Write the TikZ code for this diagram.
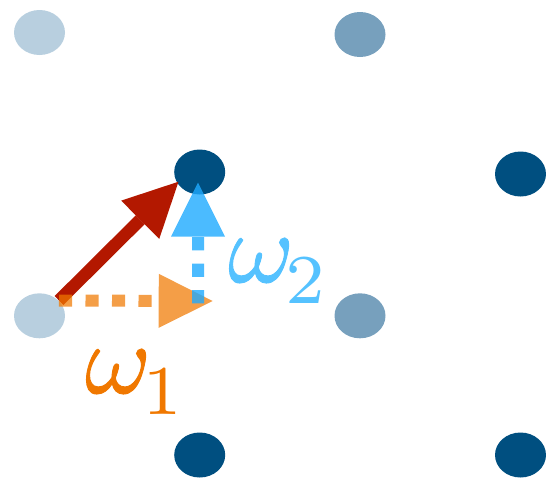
\documentclass[tikz,border=0pt]{standalone}
\usepackage{graphicx}
\usetikzlibrary{arrows.meta,shapes.geometric}
\definecolor{dotlight}{HTML}{B8CFDF}
\definecolor{dotmid}{HTML}{77A0BD}
\definecolor{dotdark}{HTML}{004F80}
\definecolor{vred}{HTML}{B31800}
\definecolor{vorange}{HTML}{F07800}
\definecolor{vblue}{HTML}{1EAAFF}
\definecolor{tblue}{HTML}{55C2FF}
\tikzset{
  lat/.style={ellipse, fill=#1, draw=none, minimum width=51pt, minimum height=45pt, inner sep=0pt},
  vec/.style={line width=12.5pt, -{Triangle[length=54pt,width=54pt,line width=0pt]}},
  dotvec/.style={vec, line width=12pt, dash pattern=on 13.2pt off 13.3pt},
  lbl/.style={inner sep=0pt, anchor=base west, font=\fontsize{10}{12}\selectfont}
}
\newcommand\fakebold[1]{\special{pdf:literal direct 2 Tr 0.09 w}#1\special{pdf:literal direct 0 Tr}}
\newcommand\omsub[1]{\scalebox{10}{$\fakebold{\omega}_{\kern-0.9pt\lower0.6pt\hbox{$\scriptstyle #1$}}$}}
\begin{document}
\begin{tikzpicture}[x=1pt,y=-1pt]
\useasboundingbox (0,0) rectangle (546,480);
\node[lat=dotlight] (p00) at (39.5,32.5) {};
\node[lat=dotmid]   (p01) at (360,34.5) {};
\node[lat=dotdark]  (p10) at (199.7,172) {};
\node[lat=dotdark]  (p11) at (520.5,174) {};
\node[lat=dotlight] (p20) at (39.5,315.8) {};
\node[lat=dotmid]   (p21) at (360,315.8) {};
\node[lat=dotdark]  (p30) at (199.7,455) {};
\node[lat=dotdark]  (p31) at (520.5,455) {};
\coordinate (o)  at (59,300.5);
\coordinate (tr) at (178.5,181.7);
\coordinate (to) at (212.7,301);
\coordinate (ob) at (198,303.3);
\coordinate (tb) at (198,182.7);
\draw[vec, vred] (o) -- (tr);
\begin{scope}[transparency group, opacity=0.72]
\draw[dotvec, vorange] (o) -- (to);
\end{scope}
\begin{scope}[transparency group, opacity=0.8]
\draw[dotvec, vblue] (ob) -- (tb);
\end{scope}
\node[lbl, text=vorange] (w1) at (85,393) {\omsub{1}};
\node[lbl, text=tblue] (w2) at (228,282) {\omsub{2}};
\end{tikzpicture}
\end{document}
